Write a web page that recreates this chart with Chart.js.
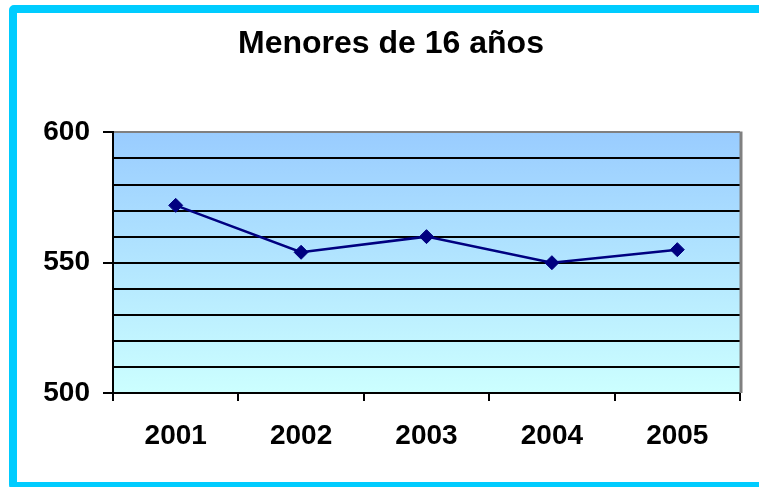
<!DOCTYPE html>
<html>
<head>
<meta charset="utf-8">
<script src="https://cdn.jsdelivr.net/npm/chart.js@4"></script>
<style>
  html, body { margin: 0; padding: 0; background: #fff; overflow: hidden; }
  #wrap { position: relative; width: 759px; height: 487px; }
  #frame {
    position: absolute; left: 9px; top: 5px; width: 800px; height: 485px;
    box-sizing: border-box; border: 8px solid #00CCFF; border-radius: 5px;
    pointer-events: none;
  }
</style>
</head>
<body>
<div id="wrap">
  <canvas id="myChart" width="759" height="487"></canvas>
  <div id="frame"></div>
</div>
<script>
const years = ['2001', '2002', '2003', '2004', '2005'];
const menores = [572, 554, 560, 550, 555];
const yMin = 500;
const yMax = 600;

const FONT = "'Liberation Sans', Arial, sans-serif";

// gradient fill of the plot area plus the grey right edge
const plotArea = {
  id: 'plotArea',
  beforeDraw(chart) {
    const { ctx, chartArea: a } = chart;
    const g = ctx.createLinearGradient(0, a.top, 0, a.bottom);
    g.addColorStop(0, '#99CCFF');
    g.addColorStop(1, '#CCFFFF');
    ctx.save();
    ctx.fillStyle = g;
    ctx.fillRect(a.left, a.top, a.right - a.left, a.bottom - a.top);
    ctx.restore();
  },
  afterDatasetsDraw(chart) {
    const { ctx, chartArea: a } = chart;
    ctx.save();
    ctx.strokeStyle = '#808080';
    ctx.lineWidth = 3;
    ctx.beginPath();
    ctx.moveTo(a.right + 1, a.top - 1);
    ctx.lineTo(a.right + 1, a.bottom);
    ctx.stroke();
    ctx.restore();
  }
};

const config = {
  type: 'line',
  data: {
    labels: years,
    datasets: [{
      label: 'Menores de 16 años',
      data: menores,
      borderColor: '#000080',
      backgroundColor: '#000080',
      borderWidth: 2.5,
      pointStyle: 'rectRot',
      pointRadius: 7,
      pointBorderWidth: 1,
      tension: 0
    }]
  },
  options: {
    responsive: false,
    animation: false,
    layout: { padding: { left: 42, right: 19, top: 0, bottom: 0 } },
    plugins: {
      legend: { display: false },
      tooltip: { enabled: false },
      title: {
        display: true,
        text: 'Menores de 16 años',
        color: '#000',
        font: { family: FONT, size: 32, weight: 'bold' },
        padding: { top: 25, bottom: 69 }
      }
    },
    scales: {
      x: {
        offset: true,
        border: { color: '#000', width: 2 },
        grid: { offset: true, drawOnChartArea: false, color: '#000', lineWidth: 2, tickLength: 8 },
        ticks: { color: '#000', padding: 18, font: { family: FONT, size: 28, weight: 'bold' }, maxRotation: 0 },
        afterFit(scale) { scale.height = 94; }
      },
      y: {
        min: yMin,
        max: yMax,
        border: { color: '#000', width: 2 },
        grid: {
          color: ctx => ctx.tick && ctx.tick.value === yMax ? '#808080' : '#000',
          lineWidth: 2,
          tickLength: 10,
          tickColor: ctx => ctx.tick && ctx.tick.value % 50 === 0 ? '#000' : 'rgba(0,0,0,0)'
        },
        ticks: {
          stepSize: 10,
          autoSkip: false,
          color: '#000',
          padding: 13,
          font: { family: FONT, size: 28, weight: 'bold' },
          callback: v => (v % 50 === 0 ? v : '')
        },
        afterFit(scale) { scale.width = 71; }
      }
    }
  },
  plugins: [plotArea]
};

const myChart = new Chart(document.getElementById('myChart'), config);
</script>
</body>
</html>
